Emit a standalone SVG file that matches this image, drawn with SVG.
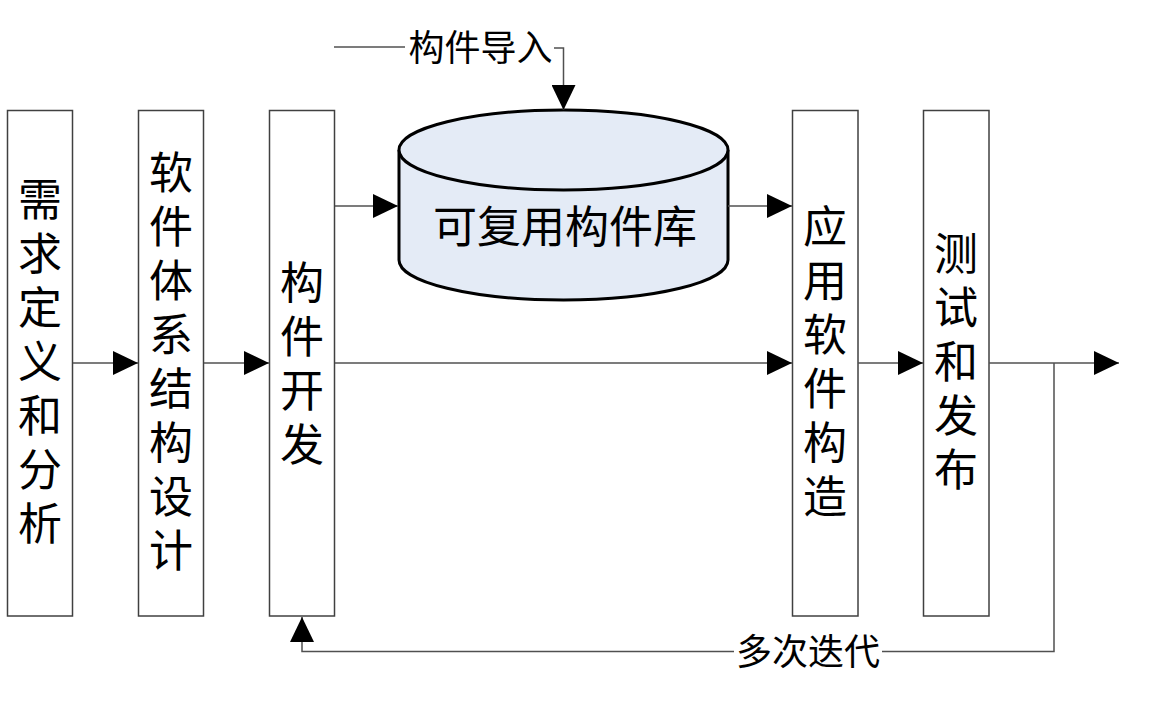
<svg xmlns="http://www.w3.org/2000/svg" width="1158" height="702" viewBox="0 0 1158 702">
<defs>
<style>
.box{fill:#fff;stroke:#404040;stroke-width:1.5}
.lbl{font-family:"Noto Sans CJK SC","Noto Sans",sans-serif;font-size:44px;fill:#000;text-anchor:middle}
.v{font-family:"Noto Sans CJK SC","Noto Sans",sans-serif;font-size:44px;fill:#000;text-anchor:middle;writing-mode:vertical-rl;letter-spacing:10px}
.sm{font-family:"Noto Sans CJK SC","Noto Sans",sans-serif;font-size:36px;fill:#000;text-anchor:middle}
.ln{fill:none;stroke:#505050;stroke-width:1.5}
.cyl{fill:#E4EBF6;stroke:#000;stroke-width:3}
</style>
<marker id="ah" viewBox="0 0 25 24" refX="25" refY="12" markerWidth="25" markerHeight="24" markerUnits="userSpaceOnUse" orient="auto">
<path d="M0,0 L25,12 L0,24 z" fill="#000"/>
</marker>
</defs>
<rect width="1158" height="702" fill="#fff"/>

<g id="n1">
<rect class="box" x="7.5" y="110.5" width="65" height="505.5"/>
<text class="v" x="40" y="366">需求定义和分析</text>
</g>
<g id="n2">
<rect class="box" x="138.5" y="110.5" width="65" height="505.5"/>
<text class="v" x="171" y="366">软件体系结构设计</text>
</g>
<g id="n3">
<rect class="box" x="269.5" y="110.5" width="65" height="505.5"/>
<text class="v" x="302" y="368">构件开发</text>
</g>
<g id="n4">
<path class="cyl" d="M399,150 A164.5,40 0 0 1 728,150 V260 A164.5,40 0 0 1 399,260 Z"/>
<path class="cyl" d="M399,150 A164.5,40 0 0 0 728,150" fill="none"/>
<text class="lbl" x="565" y="243">可复用构件库</text>
</g>
<g id="n5">
<rect class="box" x="792.5" y="110.5" width="65.5" height="505.5"/>
<text class="v" x="825" y="366">应用软件构造</text>
</g>
<g id="n6">
<rect class="box" x="923.5" y="110.5" width="65.5" height="505.5"/>
<text class="v" x="956" y="366">测试和发布</text>
</g>

<g id="connectors">
<path class="ln" d="M73,363 H138" marker-end="url(#ah)"/>
<path class="ln" d="M204,363 H269" marker-end="url(#ah)"/>
<path class="ln" d="M335,363 H792" marker-end="url(#ah)"/>
<path class="ln" d="M858,363 H923" marker-end="url(#ah)"/>
<path class="ln" d="M989,363 H1119" marker-end="url(#ah)"/>
<path class="ln" d="M335,206 H398" marker-end="url(#ah)"/>
<path class="ln" d="M728,206 H792" marker-end="url(#ah)"/>
<path class="ln" d="M334,47 H405"/>
<path class="ln" d="M554,48 H563.5 V110" marker-end="url(#ah)"/>
<text class="sm" x="480.5" y="61">构件导入</text>
<path class="ln" d="M1054,363 V651.5 H882"/>
<path class="ln" d="M734,651.5 H302 V617" marker-end="url(#ah)"/>
<text class="sm" x="808" y="665">多次迭代</text>
</g>
</svg>
